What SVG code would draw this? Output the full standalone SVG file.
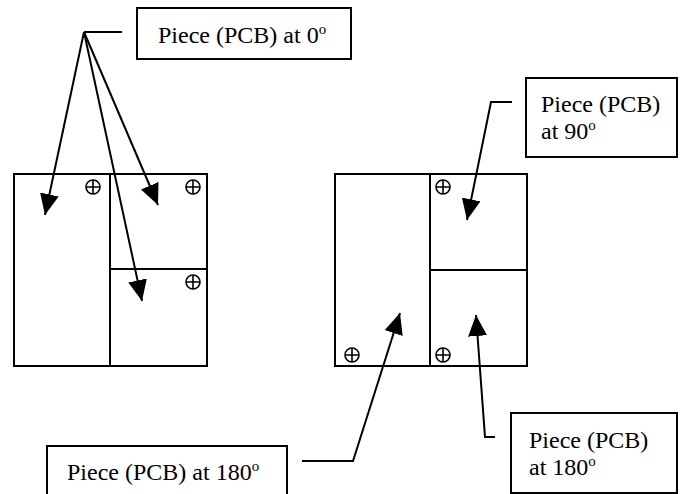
<svg xmlns="http://www.w3.org/2000/svg" width="680" height="494" viewBox="0 0 680 494">
  <style>
    .box { fill: #fff; stroke: #000; stroke-width: 2; }
    .pnl { fill: #fff; stroke: #000; stroke-width: 2; }
    .lbl { font-family: "Liberation Serif", "Times New Roman", serif; font-size: 24px; fill: #000; }
    .sup { font-size: 15px; }
    .con { fill: none; stroke: #000; stroke-width: 2; }
    .fid { fill: none; stroke: #000; stroke-width: 1.6; }
  </style>
  <defs>
    <marker id="ah" viewBox="0 0 21 19" refX="21" refY="9.5" markerWidth="21" markerHeight="19" orient="auto" markerUnits="userSpaceOnUse">
      <path d="M0,0 L21,9.5 L0,19 z" fill="#000"/>
    </marker>
    <g id="fid">
      <circle class="fid" cx="0" cy="0" r="7"/>
      <path class="fid" d="M-7,0 H7 M0,-7 V7"/>
    </g>
  </defs>
  <rect width="680" height="494" fill="#fff"/>

  <g id="board-left">
    <rect class="pnl" x="14" y="174" width="96" height="192"/>
    <rect class="pnl" x="110" y="174" width="97" height="95"/>
    <rect class="pnl" x="110" y="269" width="97" height="97"/>
    <use href="#fid" x="93" y="187"/>
    <use href="#fid" x="193" y="187"/>
    <use href="#fid" x="193" y="282"/>
  </g>

  <g id="board-right">
    <rect class="pnl" x="335" y="174" width="95" height="192"/>
    <rect class="pnl" x="430" y="174" width="97" height="96"/>
    <rect class="pnl" x="430" y="270" width="97" height="96"/>
    <use href="#fid" x="443" y="187"/>
    <use href="#fid" x="352" y="355"/>
    <use href="#fid" x="443" y="355"/>
  </g>

  <g id="label-0">
    <rect class="box" x="137" y="8" width="214" height="51"/>
    <text class="lbl" x="158" y="43">Piece (PCB) at 0<tspan class="sup" dy="-9">o</tspan></text>
  </g>

  <g id="label-90">
    <rect class="box" x="526" y="78" width="151" height="79"/>
    <text class="lbl" x="541" y="112">Piece (PCB)</text>
    <text class="lbl" x="541" y="139">at 90<tspan class="sup" dy="-9">o</tspan></text>
  </g>

  <g id="label-180-left">
    <rect class="box" x="47" y="446" width="240" height="60"/>
    <text class="lbl" x="67" y="480">Piece (PCB) at 180<tspan class="sup" dy="-9">o</tspan></text>
  </g>

  <g id="label-180-right">
    <rect class="box" x="511" y="413" width="166" height="80"/>
    <text class="lbl" x="529" y="448">Piece (PCB)</text>
    <text class="lbl" x="529" y="475">at 180<tspan class="sup" dy="-9">o</tspan></text>
  </g>

  <g id="connectors">
    <path class="con" d="M122,32 H84"/>
    <path class="con" d="M84,32 L45,215" marker-end="url(#ah)"/>
    <path class="con" d="M84,32 L158,205" marker-end="url(#ah)"/>
    <path class="con" d="M84,32 L142,301" marker-end="url(#ah)"/>
    <path class="con" d="M512,102 H491 L467,220" marker-end="url(#ah)"/>
    <path class="con" d="M302,461 H353 L400,313" marker-end="url(#ah)"/>
    <path class="con" d="M495,437 H485 L476,315" marker-end="url(#ah)"/>
  </g>
</svg>
